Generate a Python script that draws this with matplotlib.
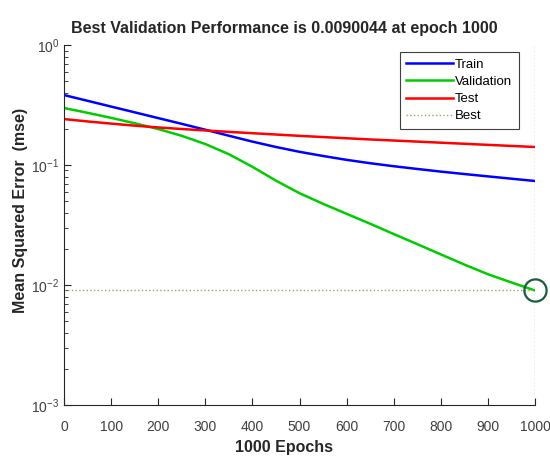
import numpy as np
import matplotlib
matplotlib.use('Agg')
import matplotlib.pyplot as plt
from matplotlib.ticker import LogLocator, NullFormatter

plt.rcParams['font.family'] = ['Liberation Sans', 'DejaVu Sans']

# performance values (every 50 epochs)
epochs = [0, 50, 100, 150, 200, 250, 300, 350, 400, 450, 500,
          550, 600, 650, 700, 750, 800, 850, 900, 950, 1000]
train_mse = [0.3828, 0.3428, 0.3069, 0.2748, 0.2460, 0.2203, 0.1968, 0.1754, 0.1567, 0.1413, 0.1288,
             0.1189, 0.1104, 0.1035, 0.0977, 0.0927, 0.0881, 0.0841, 0.0804, 0.0769, 0.0736]
val_mse = [0.2985, 0.2723, 0.2472, 0.2228, 0.1995, 0.1750, 0.1496, 0.1230, 0.0966, 0.0741, 0.0582,
           0.0475, 0.0392, 0.0324, 0.0266, 0.0219, 0.0180, 0.0148, 0.0123, 0.0105, 0.0090044]
test_mse = [0.2415, 0.2307, 0.2213, 0.2128, 0.2056, 0.1995, 0.1941, 0.1888, 0.1841, 0.1795, 0.1750,
            0.1710, 0.1671, 0.1633, 0.1600, 0.1567, 0.1535, 0.1503, 0.1472, 0.1442, 0.1413]
best_epoch = 1000
best_perf = 0.0090044

fig = plt.figure(figsize=(5.5, 4.57), dpi=100)
ax = fig.add_axes([0.1164, 0.1138, 0.8563, 0.7877])

ax.semilogy(epochs, train_mse, color='#0000ff', lw=1.8, label='Train')
ax.semilogy(epochs, val_mse, color='#00cc00', lw=1.8, label='Validation')
ax.semilogy(epochs, test_mse, color='#ff0000', lw=1.8, label='Test')
ax.plot([0, best_epoch], [best_perf, best_perf], ls=':', color='#9aa36a', lw=1.0, label='Best')
ax.plot([best_epoch, best_epoch], [1e-3, 1e0], ls=':', color='#a0a0a0', lw=1.0)
ax.plot([best_epoch], [best_perf], 'o', mfc='none', mec='#1a5c3c', ms=16, mew=1.6, clip_on=False)

ax.set_xlim(0, 1000)
ax.set_ylim(1e-3, 1e0)
ax.set_xticks(np.arange(0, 1001, 100))
ax.yaxis.set_major_locator(LogLocator(base=10, numticks=10))
ax.yaxis.set_minor_locator(LogLocator(base=10, subs=np.arange(2, 10), numticks=10))
ax.yaxis.set_minor_formatter(NullFormatter())
ax.tick_params(which='both', direction='in', colors='#262626', labelsize=10, labelcolor='#404040')
ax.tick_params(which='major', length=5)
ax.tick_params(which='minor', length=3)
ax.tick_params(axis='x', pad=11)
for s in ['top', 'right']:
    ax.spines[s].set_visible(False)
for s in ['left', 'bottom']:
    ax.spines[s].set_color('#262626')

ax.set_title('Best Validation Performance is 0.0090044 at epoch 1000',
             fontsize=11.5, fontweight='bold', color='#262626', x=0.467, pad=9)
ax.set_xlabel('1000 Epochs', fontsize=11.5, fontweight='bold', color='#262626', labelpad=4, x=0.467)
ax.set_ylabel('Mean Squared Error  (mse)', fontsize=11.5, fontweight='bold', color='#262626')
ax.yaxis.set_label_coords(-0.076, 0.54)

leg = ax.legend(loc='upper right', bbox_to_anchor=(0.966, 0.981), borderaxespad=0,
                fontsize=9.5, handlelength=3.5, handletextpad=0.2, labelspacing=0.38,
                borderpad=0.5, fancybox=False, framealpha=1)
leg.get_frame().set_edgecolor('#404040')
leg.get_frame().set_linewidth(0.8)

plt.savefig('out.png', dpi=100)
